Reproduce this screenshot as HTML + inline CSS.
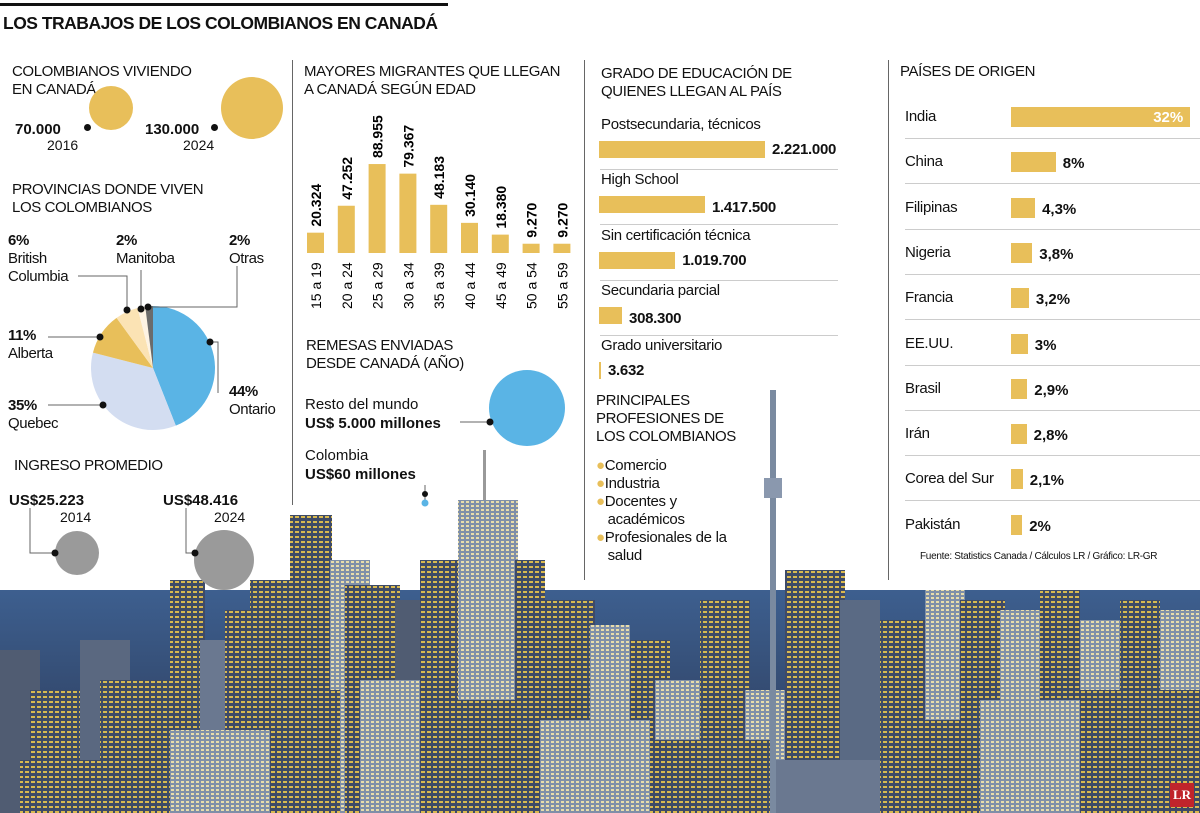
<!DOCTYPE html>
<html><head><meta charset="utf-8"><style>
body{margin:0;width:1200px;height:813px;overflow:hidden;background:#fff;font-family:"Liberation Sans",sans-serif;color:#111;position:relative}
.t{position:absolute;white-space:nowrap;line-height:1}
.h{font-size:15px;letter-spacing:-0.4px;line-height:18px}
.b{font-weight:bold}
svg{position:absolute;left:0;top:0}
</style></head><body>
<svg width="1200" height="813">
<defs>
<linearGradient id="sky" x1="0" y1="0" x2="0" y2="1"><stop offset="0" stop-color="#3d5f8f"/><stop offset="1" stop-color="#2a3550"/></linearGradient>
<pattern id="win" width="6" height="5" patternUnits="userSpaceOnUse"><rect width="6" height="5" fill="#3e4a66"/><rect x="1" y="1" width="4" height="2" fill="#d9b94f"/></pattern>
<pattern id="win2" width="5" height="4" patternUnits="userSpaceOnUse"><rect width="5" height="4" fill="#7f8fa8"/><rect x="1" y="1" width="3" height="2" fill="#e8dcaa"/></pattern>
</defs>
<rect x="0" y="590" width="1200" height="223" fill="url(#sky)"/>
<g id="bld"></g>
</svg>
<div id="root"></div>
<script>
const NS="http://www.w3.org/2000/svg";
const bld=document.getElementById('bld');
function r(p,x,y,w,h,f){const e=document.createElementNS(NS,'rect');e.setAttribute('x',x);e.setAttribute('y',y);e.setAttribute('width',w);e.setAttribute('height',h);e.setAttribute('fill',f);p.appendChild(e);return e;}
// decorative skyline buildings [x,y,w,fill]
const B=[[0,650,40,'#505c72'],[30,690,60,'url(#win)'],[80,640,50,'#5a6880'],[100,680,70,'url(#win)'],[170,580,35,'url(#win)'],[200,640,40,'#6a7890'],[225,610,30,'url(#win)'],[250,580,40,'url(#win)'],[290,515,42,'url(#win)'],[330,560,40,'url(#win2)'],[345,585,55,'url(#win)'],[395,600,30,'#505c72'],[420,560,40,'url(#win)'],[458,500,60,'url(#win2)'],[515,560,30,'url(#win)'],[545,600,50,'url(#win)'],[590,625,40,'url(#win2)'],[630,640,40,'url(#win)'],[655,680,90,'url(#win2)'],[700,600,50,'url(#win)'],[745,690,70,'url(#win2)'],[785,570,60,'url(#win)'],[840,600,40,'#5a6a84'],[880,620,50,'url(#win)'],[925,590,40,'url(#win2)'],[960,600,45,'url(#win)'],[1000,610,40,'url(#win2)'],[1040,590,40,'url(#win)'],[1080,620,50,'url(#win2)'],[1120,600,40,'url(#win)'],[1160,610,40,'url(#win2)'],[20,760,150,'url(#win)'],[170,730,100,'url(#win2)'],[270,690,70,'url(#win)'],[360,680,60,'url(#win2)'],[440,700,90,'url(#win)'],[540,720,110,'url(#win2)'],[650,740,120,'url(#win)'],[770,760,120,'#6a7890'],[880,720,100,'url(#win)'],[980,700,100,'url(#win2)'],[1080,690,120,'url(#win)']];
B.forEach(b=>r(bld,b[0],b[1],b[2],813-b[1],b[3]));
r(bld,770,390,6,423,'#7a8aa0');r(bld,764,478,18,20,'#8a98ae');r(bld,483,450,3,50,'#999');
</script>

<div style="position:absolute;left:0;top:3px;width:448px;height:3px;background:#111"></div>
<div class="t b" style="left:3px;top:15px;font-size:17.5px;letter-spacing:-0.5px">LOS TRABAJOS DE LOS COLOMBIANOS EN CANADÁ</div>

<div style="position:absolute;left:292px;top:60px;width:1px;height:445px;background:#666"></div>
<div style="position:absolute;left:584px;top:60px;width:1px;height:520px;background:#666"></div>
<div style="position:absolute;left:888px;top:60px;width:1px;height:520px;background:#666"></div>

<!-- column 1 -->
<div class="t h" style="left:12px;top:63px">COLOMBIANOS VIVIENDO<br>EN CANADÁ</div>
<div class="t b" style="left:15px;top:122px;font-size:15px">70.000</div>
<div class="t" style="left:47px;top:138px;font-size:14px">2016</div>
<div style="position:absolute;left:89px;top:86px;width:44px;height:44px;border-radius:50%;background:#e8bf5a"></div>
<div style="position:absolute;left:84px;top:124px;width:7px;height:7px;border-radius:50%;background:#111"></div>
<div class="t b" style="left:145px;top:122px;font-size:15px">130.000</div>
<div class="t" style="left:183px;top:138px;font-size:14px">2024</div>
<div style="position:absolute;left:221px;top:77px;width:62px;height:62px;border-radius:50%;background:#e8bf5a"></div>
<div style="position:absolute;left:211px;top:124px;width:7px;height:7px;border-radius:50%;background:#111"></div>

<div class="t h" style="left:12px;top:181px">PROVINCIAS DONDE VIVEN<br>LOS COLOMBIANOS</div>
<svg width="300" height="450" style="left:0;top:0" id="pie"></svg>
<div class="t h" style="left:8px;top:232px"><b>6%</b><br>British<br>Columbia</div>
<div class="t h" style="left:116px;top:232px"><b>2%</b><br>Manitoba</div>
<div class="t h" style="left:229px;top:232px"><b>2%</b><br>Otras</div>
<div class="t h" style="left:8px;top:327px"><b>11%</b><br>Alberta</div>
<div class="t h" style="left:229px;top:383px"><b>44%</b><br>Ontario</div>
<div class="t h" style="left:8px;top:397px"><b>35%</b><br>Quebec</div>

<div class="t h" style="left:14px;top:457px">INGRESO PROMEDIO</div>
<div class="t b" style="left:9px;top:493px;font-size:15px">US$25.223</div>
<div class="t" style="left:60px;top:510px;font-size:14px">2014</div>
<div class="t b" style="left:163px;top:493px;font-size:15px">US$48.416</div>
<div class="t" style="left:214px;top:510px;font-size:14px">2024</div>
<svg width="300" height="600">
<path d="M30 508V553H55M186 508V553H195" stroke="#666" fill="none"/>
<circle cx="77" cy="553" r="22" fill="#9a9a9a"/><circle cx="55" cy="553" r="3.5" fill="#111"/>
<circle cx="224" cy="560" r="30" fill="#9a9a9a"/><circle cx="195" cy="553" r="3.5" fill="#111"/>
</svg>

<!-- column 2 -->
<div class="t h" style="left:304px;top:63px">MAYORES MIGRANTES QUE LLEGAN<br>A CANADÁ SEGÚN EDAD</div>
<svg width="600" height="330" id="ages"></svg>

<div class="t h" style="left:306px;top:337px">REMESAS ENVIADAS<br>DESDE CANADÁ (AÑO)</div>
<div class="t" style="left:305px;top:395px;font-size:15px;line-height:19px">Resto del mundo<br><b>US$ 5.000 millones</b></div>
<div class="t" style="left:305px;top:446px;font-size:15px;line-height:19px">Colombia<br><b>US$60 millones</b></div>
<svg width="600" height="520">
<path d="M460 422H490M425 485V500" stroke="#666" fill="none"/>
<circle cx="527" cy="408" r="38" fill="#5ab4e5"/><circle cx="490" cy="422" r="3.5" fill="#111"/>
<circle cx="425" cy="503" r="3.5" fill="#5ab4e5"/><circle cx="425" cy="494" r="3" fill="#111"/>
</svg>

<!-- column 3 -->
<div class="t h" style="left:601px;top:65px">GRADO DE EDUCACIÓN DE<br>QUIENES LLEGAN AL PAÍS</div>
<div id="edu"></div>
<div class="t h" style="left:596px;top:392px">PRINCIPALES<br>PROFESIONES DE<br>LOS COLOMBIANOS</div>
<div class="t" style="left:596px;top:457px;font-size:15px;line-height:18px;letter-spacing:-0.3px">
<span style="color:#e8bf5a">●</span>Comercio<br><span style="color:#e8bf5a">●</span>Industria<br><span style="color:#e8bf5a">●</span>Docentes y<br>&nbsp;&nbsp;&nbsp;académicos<br><span style="color:#e8bf5a">●</span>Profesionales de la<br>&nbsp;&nbsp;&nbsp;salud</div>

<!-- column 4 -->
<div class="t h" style="left:900px;top:63px">PAÍSES DE ORIGEN</div>
<div id="ctry"></div>
<div class="t" style="left:920px;top:552px;font-size:10px;letter-spacing:-0.3px">Fuente: Statistics Canada / Cálculos LR / Gráfico: LR-GR</div>
<div class="t b" style="left:1170px;top:783px;width:24px;height:24px;background:#c0242b;color:#fff;font-family:'Liberation Serif',serif;font-size:13px;text-align:center;line-height:24px">LR</div>

<script>
// pie
const pieLabels=['Ontario','Quebec','Alberta','British Columbia','Manitoba','Otras'];
const pieValues=[44,35,11,6,2,2];
const pieColors=['#5ab4e5','#d3ddf1','#e8bf5a','#fbe3b4','#fdf3e3','#6b6b6b'];
const pie=document.getElementById('pie');
const cx=153,cy=368,R=62;
let a0=0;const tot=pieValues.reduce((s,v)=>s+v,0);
function pt(a,rr){return [cx+rr*Math.sin(a),cy-rr*Math.cos(a)];}
pieValues.forEach((v,i)=>{
 const a1=a0+v/tot*2*Math.PI;const p0=pt(a0,R),p1=pt(a1,R);
 const p=document.createElementNS(NS,'path');
 p.setAttribute('d',`M${cx} ${cy}L${p0[0]} ${p0[1]}A${R} ${R} 0 ${a1-a0>Math.PI?1:0} 1 ${p1[0]} ${p1[1]}Z`);
 p.setAttribute('fill',pieColors[i]);
 
 
 pie.appendChild(p);a0=a1;});
const lead=document.createElementNS(NS,'path');
lead.setAttribute('d','M210 342H218V393M100 337H48M103 405H48M127 310V276H78M141 309V270M148 307H237V266');
lead.setAttribute('stroke','#666');lead.setAttribute('fill','none');pie.appendChild(lead);
[[210,342],[100,337],[103,405],[127,310],[141,309],[148,307]].forEach(d=>{const c=document.createElementNS(NS,'circle');c.setAttribute('cx',d[0]);c.setAttribute('cy',d[1]);c.setAttribute('r',3.5);c.setAttribute('fill','#111');pie.appendChild(c);});

// ages
const ageCats=['15 a 19','20 a 24','25 a 29','30 a 34','35 a 39','40 a 44','45 a 49','50 a 54','55 a 59'];
const ageValues=[20324,47252,88955,79367,48183,30140,18380,9270,9270];
const ageLabels=['20.324','47.252','88.955','79.367','48.183','30.140','18.380','9.270','9.270'];
const ages=document.getElementById('ages');
const xA=i=>307+i*30.8, yA=v=>253-v/1000;
ageValues.forEach((v,i)=>{
 const b=r(ages,xA(i),yA(v),17,253-yA(v),'#e8bf5a');
 
 
 const t=document.createElementNS(NS,'text');
 t.setAttribute('transform',`translate(${xA(i)+14},${yA(v)-6}) rotate(-90)`);
 t.setAttribute('font-size','14');t.setAttribute('font-weight','bold');t.setAttribute('font-family','Liberation Sans');
 t.textContent=ageLabels[i];
 
 
 ages.appendChild(t);
 const c=document.createElementNS(NS,'text');
 c.setAttribute('transform',`translate(${xA(i)+14},${309}) rotate(-90)`);
 c.setAttribute('font-size','14');c.setAttribute('font-family','Liberation Sans');
 c.textContent=ageCats[i];
 
 
 ages.appendChild(c);});

// education
const eduCats=['Postsecundaria, técnicos','High School','Sin certificación técnica','Secundaria parcial','Grado universitario'];
const eduValues=[2221000,1417500,1019700,308300,3632];
const eduLabels=['2.221.000','1.417.500','1.019.700','308.300','3.632'];
const edu=document.getElementById('edu');
const wE=v=>Math.max(2,v/2221000*166);
eduValues.forEach((v,i)=>{
 const y=141+i*55.3;
 const l=document.createElement('div');l.className='t';l.style.cssText=`left:601px;top:${y-24}px;font-size:15px;letter-spacing:-0.3px`;l.textContent=eduCats[i];
 
 
 edu.appendChild(l);
 const b=document.createElement('div');b.style.cssText=`position:absolute;left:599px;top:${y}px;width:${wE(v)}px;height:17px;background:#e8bf5a`;
 
 
 edu.appendChild(b);
 const t=document.createElement('div');t.className='t b';t.style.cssText=`left:${599+wE(v)+7}px;top:${y+(i==1||i==3?4:1)}px;font-size:15px;letter-spacing:-0.3px`;t.textContent=eduLabels[i];
 
 
 edu.appendChild(t);
 if(i<4){const s=document.createElement('div');s.style.cssText=`position:absolute;left:600px;top:${y+28}px;width:238px;height:1px;background:#ccc`;edu.appendChild(s);}
});

// countries
const ctryCats=['India','China','Filipinas','Nigeria','Francia','EE.UU.','Brasil','Irán','Corea del Sur','Pakistán'];
const ctryValues=[32,8,4.3,3.8,3.2,3,2.9,2.8,2.1,2];
const ctryLabels=['32%','8%','4,3%','3,8%','3,2%','3%','2,9%','2,8%','2,1%','2%'];
const ctry=document.getElementById('ctry');
const wC=v=>v*5.6;
ctryValues.forEach((v,i)=>{
 const y=107+i*45.3;
 const l=document.createElement('div');l.className='t';l.style.cssText=`left:905px;top:${y+2}px;font-size:15px;letter-spacing:-0.3px`;l.textContent=ctryCats[i];
 
 
 ctry.appendChild(l);
 const b=document.createElement('div');b.style.cssText=`position:absolute;left:1011px;top:${y}px;width:${wC(v)}px;height:20px;background:#e8bf5a`;
 
 
 ctry.appendChild(b);
 const t=document.createElement('div');t.className='t b';
 if(i==0)t.style.cssText=`left:${1011+wC(v)-37}px;top:${y+3}px;font-size:15px;color:#fff`;
 else t.style.cssText=`left:${1011+wC(v)+7}px;top:${y+4}px;font-size:15px`;
 t.textContent=ctryLabels[i];
 
 
 ctry.appendChild(t);
 if(i<9){const s=document.createElement('div');s.style.cssText=`position:absolute;left:905px;top:${y+31}px;width:295px;height:1px;background:#ccc`;ctry.appendChild(s);}
});
</script>
</body></html>
